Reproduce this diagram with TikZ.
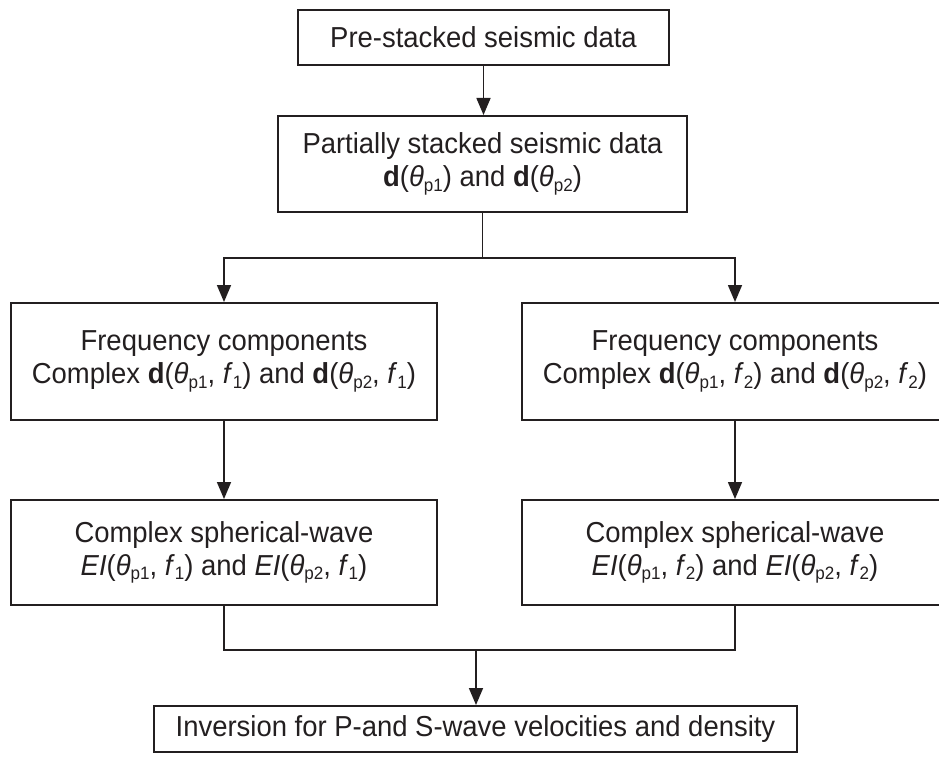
\documentclass[tikz,border=0pt]{standalone}
\usepackage{fontspec}
\setmainfont[FakeStretch=0.95]{Liberation Sans}
\usetikzlibrary{arrows.meta}
\definecolor{ink}{RGB}{35,31,32}
\newcommand\mysub[1]{\raisebox{-0.3ex}{\fontsize{18}{18}\selectfont #1}}
\tikzset{
  box/.style={draw=ink, text=ink, line width=2bp, align=center, inner sep=0pt,
    font=\fontsize{29}{33}\selectfont},
  conn/.style={draw=ink, line width=1.6bp},
  arr/.style={conn, -{Triangle[length=17bp,width=14bp]}}
}
\begin{document}
\begin{tikzpicture}[x=1bp,y=-1bp]
\clip (0,0) rectangle (939,759);
\fill[white] (0,0) rectangle (939,759);
\node[box, minimum width=371bp, minimum height=55bp] (b1) at (483.5,37.5) {Pre-stacked seismic data};
\node[box, minimum width=409bp, minimum height=96bp] (b2) at (482.5,164) {Partially stacked seismic data\\ \textbf{d}(\textit{θ}\mysub{p1}) and \textbf{d}(\textit{θ}\mysub{p2})};
\node[box, minimum width=426bp, minimum height=117bp] (b3l) at (224,361.5) {Frequency components\\ Complex \textbf{d}(\textit{θ}\mysub{p1}, \textit{f}\mysub{1}) and \textbf{d}(\textit{θ}\mysub{p2}, \textit{f}\mysub{1})};
\node[box, minimum width=426bp, minimum height=117bp] (b3r) at (735,361.5) {Frequency components\\ Complex \textbf{d}(\textit{θ}\mysub{p1}, \textit{f}\mysub{2}) and \textbf{d}(\textit{θ}\mysub{p2}, \textit{f}\mysub{2})};
\node[box, minimum width=426bp, minimum height=105bp] (b4l) at (224,552.5) {Complex spherical-wave\\ \textit{EI}(\textit{θ}\mysub{p1}, \textit{f}\mysub{1}) and \textit{EI}(\textit{θ}\mysub{p2}, \textit{f}\mysub{1})};
\node[box, minimum width=426bp, minimum height=105bp] (b4r) at (735,552.5) {Complex spherical-wave\\ \textit{EI}(\textit{θ}\mysub{p1}, \textit{f}\mysub{2}) and \textit{EI}(\textit{θ}\mysub{p2}, \textit{f}\mysub{2})};
\node[box, minimum width=643bp, minimum height=46bp] (b5) at (475.5,729) {Inversion for P-and S-wave velocities and density};
\coordinate (br) at (482.5,258);
\coordinate (m) at (476,650);
\draw[arr] (b1.south) -- (b1.south |- b2.north);
\draw[conn] (b2.south) -- (br);
\draw[arr] (br) -| (b3l.north);
\draw[arr] (br) -| (b3r.north);
\draw[arr] (b3l) -- (b4l);
\draw[arr] (b3r) -- (b4r);
\draw[conn] (b4l.south) |- (b4r.south |- m) -- (b4r.south);
\draw[arr] (m) -- (m |- b5.north);
\end{tikzpicture}
\end{document}
